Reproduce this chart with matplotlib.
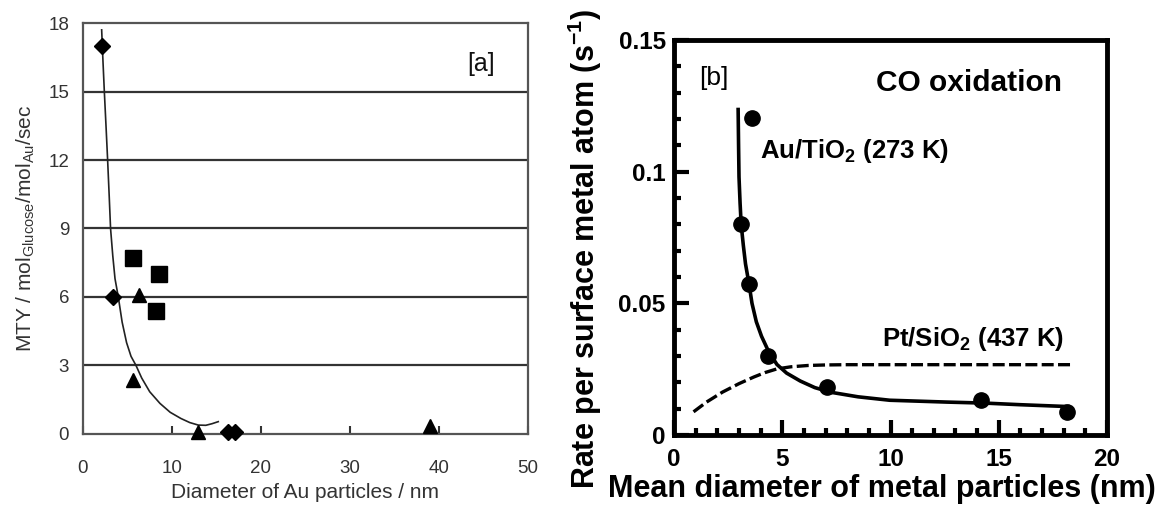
import matplotlib
matplotlib.use("Agg")
import matplotlib.pyplot as plt
import numpy as np

plt.rcParams["font.family"] = ["Liberation Sans", "DejaVu Sans"]
plt.rcParams["mathtext.fontset"] = "custom"
plt.rcParams["mathtext.rm"] = "Liberation Sans"
plt.rcParams["mathtext.bf"] = "Liberation Sans:bold"

# --- panel [a]: glucose oxidation over Au ---
diam_x = [2.1, 3.4, 16.3, 17.1]
diam_y = [17.0, 6.0, 0.1, 0.1]
sq_x = [5.65, 8.55, 8.2]
sq_y = [7.7, 7.0, 5.4]
tri_x = [6.3, 5.65, 12.95, 39.0]
tri_y = [6.1, 2.35, 0.08, 0.35]
fit_a_x = [2.1, 2.25, 2.4, 2.6, 2.77, 2.95, 3.1, 3.35, 3.6, 3.97, 4.4, 4.9, 5.4, 5.96,
           6.6, 7.5, 8.65, 9.8, 11.0, 12.0, 12.96, 13.8, 14.5, 15.2]
fit_a_y = [17.7, 16.3, 15.0, 13.4, 12.0, 10.4, 9.0, 7.8, 6.8, 6.0, 4.9, 4.0, 3.4, 3.0,
           2.45, 1.85, 1.34, 0.95, 0.68, 0.5, 0.39, 0.38, 0.45, 0.54]

# --- panel [b]: CO oxidation ---
au_x = [3.6, 3.1, 3.45, 4.35, 7.05, 14.2, 18.15]
au_y = [0.1205, 0.0803, 0.0575, 0.0301, 0.0182, 0.0132, 0.0088]
au_fit_x = [2.96, 2.98, 3.0, 3.05, 3.1, 3.2, 3.3, 3.46, 3.6, 3.8, 4.04, 4.35, 4.75, 5.2,
            5.83, 6.5, 7.26, 8.5, 9.96, 12.6, 14.4, 16.0, 18.2]
au_fit_y = [0.1236, 0.110, 0.098, 0.088, 0.080, 0.072, 0.065, 0.0575, 0.050, 0.043,
            0.0375, 0.032, 0.0268, 0.0235, 0.0205, 0.018, 0.0162, 0.0145, 0.0132,
            0.0125, 0.0121, 0.0115, 0.0108]
pt_fit_x = [0.9, 1.5, 2.24, 3.0, 3.68, 4.2, 4.75, 5.4, 6.19, 7.0, 8.0, 12.0, 18.4]
pt_fit_y = [0.0088, 0.0125, 0.0163, 0.0195, 0.022, 0.0237, 0.0251, 0.0259, 0.0264,
            0.0266, 0.0267, 0.0267, 0.0267]

fig = plt.figure(figsize=(11.67, 5.08), dpi=100)

# %% panel a
ax1 = fig.add_axes([0.0711, 0.1457, 0.3813, 0.809])
for y in [3, 6, 9, 12, 15]:
    ax1.axhline(y, color="#333333", lw=1.6, zorder=1)
ax1.plot(fit_a_x, fit_a_y, color="#222222", lw=1.2, zorder=2)
ax1.plot(diam_x, diam_y, "D", color="black", ms=8.5, zorder=3, clip_on=False)
ax1.plot(sq_x, sq_y, "s", color="black", ms=11, zorder=3)
ax1.plot(tri_x, tri_y, "^", color="black", ms=10.5, zorder=3, clip_on=False)
ax1.set_xlim(0, 50)
ax1.set_ylim(0, 18)
ax1.set_xticks([0, 10, 20, 30, 40, 50])
ax1.set_yticks([0, 3, 6, 9, 12, 15, 18])
ax1.tick_params(axis="x", direction="in", length=6, width=1.5, color="#333333",
                labelsize=13.5, labelcolor="#333333", pad=19)
ax1.tick_params(axis="y", length=0, labelsize=13.5, labelcolor="#333333", pad=10)
for s in ax1.spines.values():
    s.set_color("#555555")
    s.set_linewidth(1.6)
ax1.set_xlabel("Diameter of Au particles / nm", fontsize=15, color="#333333", labelpad=4)
ax1.set_ylabel(r"MTY / mol$_{\mathrm{Glucose}}$/mol$_{\mathrm{Au}}$/sec", fontsize=15,
               color="#333333", labelpad=8)
ax1.text(44.7, 16.2, "[a]", fontsize=18, ha="center", va="center", color="#111111")

# %% panel b
ax2 = fig.add_axes([0.5776, 0.1437, 0.371, 0.7776])
ax2.plot(au_fit_x, au_fit_y, color="black", lw=2.6, zorder=2)
ax2.plot(pt_fit_x, pt_fit_y, color="black", lw=2.4, ls=(0, (3.6, 1.3)), zorder=2)
ax2.plot(au_x, au_y, "o", color="black", ms=11, zorder=3)
ax2.set_xlim(0, 20)
ax2.set_ylim(0, 0.15)
ax2.set_xticks([0, 5, 10, 15, 20])
ax2.set_xticklabels(["0", "5", "10", "15", "20"])
ax2.set_xticks(np.arange(0, 21, 1), minor=True)
ax2.set_yticks([0, 0.05, 0.1, 0.15])
ax2.set_yticklabels(["0", "0.05", "0.1", "0.15"])
ax2.set_yticks(np.arange(0, 0.151, 0.01), minor=True)
ax2.tick_params(which="major", direction="in", length=11, width=3, labelsize=17.5, pad=6)
ax2.tick_params(which="minor", direction="in", length=5, width=3)
ax2.tick_params(axis="x", which="major", pad=9)
for lab in ax2.get_xticklabels() + ax2.get_yticklabels():
    lab.set_fontweight("bold")
for s in ax2.spines.values():
    s.set_linewidth(3.5)
ax2.set_xlabel("Mean diameter of metal particles (nm)", fontsize=22, fontweight="bold",
               va="center")
ax2.xaxis.set_label_coords(0.48, -0.137)
ax2.set_ylabel(r"Rate per surface metal atom (s$^{\mathbf{-1}}$)", fontsize=22,
               fontweight="bold", va="center")
ax2.yaxis.set_label_coords(-0.2055, 0.471)
ax2.text(1.85, 0.1355, "[b]", fontsize=19, ha="center", va="center")
ax2.text(9.33, 0.1337, "CO oxidation", fontsize=21.5, fontweight="bold", va="center")
ax2.text(3.95, 0.108, r"Au/TiO$_{\mathbf{2}}$ (273 K)", fontsize=18.5, fontweight="bold", va="center")
ax2.text(9.6, 0.0364, r"Pt/SiO$_{\mathbf{2}}$ (437 K)", fontsize=18.5, fontweight="bold", va="center")

fig.savefig("out.png", dpi=100)
